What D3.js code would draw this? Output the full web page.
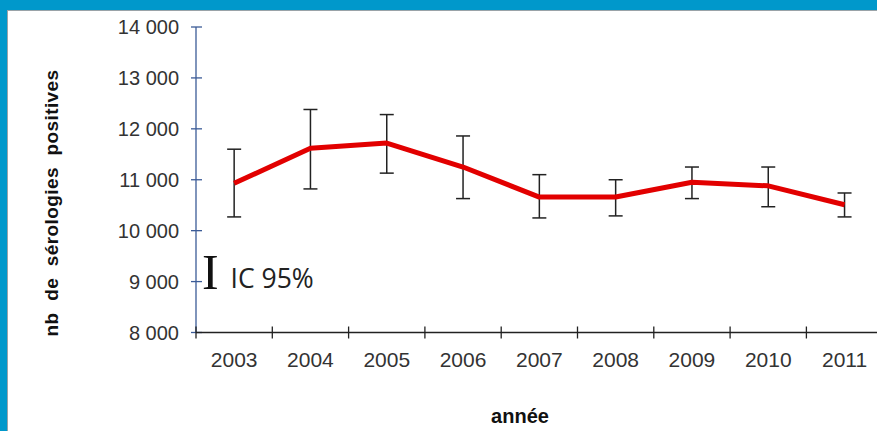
<!DOCTYPE html>
<html>
<head>
<meta charset="utf-8">
<script src="https://cdn.jsdelivr.net/npm/d3@7/dist/d3.min.js"></script>
<style>
  html, body { margin: 0; padding: 0; background: #0098cb; }
  svg { display: block; }
</style>
</head>
<body>
<svg id="chart" width="877" height="431"></svg>
<script>
// Annual count of positive serologies with 95% confidence intervals
const years = ["2003", "2004", "2005", "2006", "2007", "2008", "2009", "2010", "2011"];
const values = [10930, 11620, 11720, 11250, 10660, 10660, 10950, 10880, 10510];
const lower = [10270, 10820, 11130, 10630, 10250, 10290, 10630, 10470, 10270];
const upper = [11600, 12380, 12280, 11860, 11100, 11000, 11250, 11250, 10740];
const yTicks = [8000, 9000, 10000, 11000, 12000, 13000, 14000];

const svg = d3.select("#chart");

// page frame: blue band on top and left, white panel with thin grey edge
svg.append("rect").attr("x", 0).attr("y", 0).attr("width", 877).attr("height", 431).attr("fill", "#0098cb");
svg.append("rect").attr("x", 7.5).attr("y", 10.5).attr("width", 880).attr("height", 430)
  .attr("fill", "#ffffff").attr("stroke", "#9aa3a8").attr("stroke-width", 1);

const x = d3.scaleBand().domain(years).range([196, 196 + 9 * 76.3]).paddingInner(0).paddingOuter(0);
const y = d3.scaleLinear().domain([8000, 14000]).range([332.5, 27]);

const fr = d3.formatLocale({ decimal: ",", thousands: " ", grouping: [3], currency: ["", " €"] });
const fmt = fr.format(",d");

// y axis (dark blue, ticks crossing the line)
const yAxis = svg.append("g");
yAxis.append("line").attr("x1", 196).attr("x2", 196)
  .attr("y1", y(14000)).attr("y2", y(8000))
  .attr("stroke", "#3b5b97").attr("stroke-width", 1.3);
yAxis.selectAll("line.tick").data(yTicks).join("line").attr("class", "tick")
  .attr("x1", 191).attr("x2", 202)
  .attr("y1", d => y(d)).attr("y2", d => y(d))
  .attr("stroke", "#3b5b97").attr("stroke-width", 1.3);
yAxis.selectAll("text").data(yTicks).join("text")
  .attr("x", 179).attr("y", d => y(d)).attr("dy", "0.36em")
  .attr("text-anchor", "end")
  .attr("font-family", "Liberation Sans, Arial, sans-serif").attr("font-size", 20)
  .attr("fill", "#333")
  .text(d => fmt(d));

// x axis with ticks at category boundaries
const xAxis = svg.append("g");
xAxis.append("line").attr("x1", 196).attr("x2", 877)
  .attr("y1", y(8000)).attr("y2", y(8000))
  .attr("stroke", "#222").attr("stroke-width", 1.3);
const bounds = years.map(d => x(d)).concat([x(years[years.length - 1]) + x.bandwidth()]);
xAxis.selectAll("line.tick").data(bounds).join("line").attr("class", "tick")
  .attr("x1", d => d).attr("x2", d => d)
  .attr("y1", y(8000) - 6).attr("y2", y(8000) + 6)
  .attr("stroke", "#222").attr("stroke-width", 1.3);
xAxis.selectAll("text").data(years).join("text")
  .attr("x", d => x(d) + x.bandwidth() / 2).attr("y", 366.5)
  .attr("text-anchor", "middle")
  .attr("font-family", "Liberation Sans, Arial, sans-serif").attr("font-size", 21)
  .attr("fill", "#333")
  .text(d => d);

// axis titles
svg.append("text")
  .attr("transform", "translate(58,203) rotate(-90)")
  .attr("text-anchor", "middle")
  .attr("font-family", "Liberation Sans, Arial, sans-serif").attr("font-size", 19)
  .attr("font-weight", "bold").attr("fill", "#111")
  .attr("letter-spacing", 0.4).attr("word-spacing", 6)
  .text("nb de sérologies positives");
svg.append("text")
  .attr("x", 520).attr("y", 422.5)
  .attr("text-anchor", "middle")
  .attr("font-family", "Liberation Sans, Arial, sans-serif").attr("font-size", 20)
  .attr("font-weight", "bold").attr("fill", "#111")
  .text("année");

const rows = years.map((yr, i) => ({ yr, v: values[i], lo: lower[i], hi: upper[i] }));
const cx = d => x(d.yr) + x.bandwidth() / 2;

// confidence interval bars
const eb = svg.append("g").attr("stroke", "#222").attr("stroke-width", 1.5).attr("fill", "none");
eb.selectAll("line.v").data(rows).join("line").attr("class", "v")
  .attr("x1", cx).attr("x2", cx).attr("y1", d => y(d.hi)).attr("y2", d => y(d.lo));
eb.selectAll("line.t").data(rows).join("line").attr("class", "t")
  .attr("x1", d => cx(d) - 7).attr("x2", d => cx(d) + 7).attr("y1", d => y(d.hi)).attr("y2", d => y(d.hi));
eb.selectAll("line.b").data(rows).join("line").attr("class", "b")
  .attr("x1", d => cx(d) - 7).attr("x2", d => cx(d) + 7).attr("y1", d => y(d.lo)).attr("y2", d => y(d.lo));

// series line
svg.append("path").datum(rows)
  .attr("d", d3.line().x(cx).y(d => y(d.v)))
  .attr("fill", "none").attr("stroke", "#e20000").attr("stroke-width", 5)
  .attr("stroke-linejoin", "round");

// legend
svg.append("text").attr("x", 202).attr("y", 288.5)
  .attr("font-family", "Liberation Serif, Times New Roman, serif").attr("font-size", 50)
  .attr("fill", "#111").text("I");
svg.append("text").attr("x", 230.5).attr("y", 288)
  .attr("font-family", "Open Sans, sans-serif").attr("font-size", 26.5)
  .attr("fill", "#222").text("IC 95%");
</script>
</body>
</html>
